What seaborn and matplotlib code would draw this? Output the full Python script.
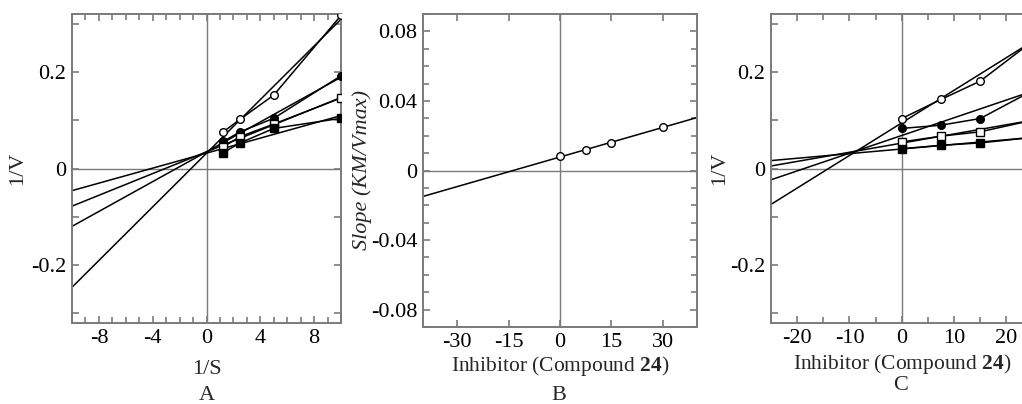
import numpy as np
import pandas as pd
import matplotlib
matplotlib.use("Agg")
import matplotlib.pyplot as plt
from matplotlib.ticker import FixedLocator, MultipleLocator, FuncFormatter
import seaborn as sns

# A: 1/V against 1/S, one series per inhibitor level
inv_s = [1.25, 2.5, 5, 10]
a_open_circle = [0.076, 0.102, 0.152, 0.317]
a_filled_circle = [0.056, 0.076, 0.104, 0.192]
a_open_square = [0.045, 0.066, 0.092, 0.146]
a_filled_square = [0.033, 0.053, 0.083, 0.104]

# B: slope replot
inhib_b = [0, 7.5, 15, 30]
slope_b = [0.0083, 0.0116, 0.0158, 0.0251]

# C: 1/V against inhibitor, one series per substrate level
inhib_c = [0, 7.5, 15, 30]
c_open_circle = [0.1035, 0.143, 0.181, 0.305]
c_filled_circle = [0.083, 0.0897, 0.1035, 0.19]
c_open_square = [0.055, 0.067, 0.076, 0.112]
c_filled_square = [0.041, 0.048, 0.053, 0.070]

sns.set_style("ticks")
plt.rcParams['font.family'] = ['Liberation Serif', 'DejaVu Serif']
plt.rcParams['mathtext.fontset'] = 'custom'
plt.rcParams['mathtext.rm'] = 'Liberation Serif'
plt.rcParams['mathtext.bf'] = 'Liberation Serif:bold'
plt.rcParams['mathtext.it'] = 'Liberation Serif:italic'
plt.rcParams['axes.unicode_minus'] = False

FS = 16
GREY = '#7a7a7a'
styles = [("o", "white"), ("o", "black"), ("s", "white"), ("s", "black")]

fig = plt.figure(figsize=(10.22, 4.04), dpi=100)
W, H = 1022, 404


def add_ax(l, r, t, b):
    return fig.add_axes([l / W, (H - b) / H, (r - l) / W, (b - t) / H])


def fmt(v, p):
    if abs(v) < 1e-9:
        return "0"
    return f"{v:g}"


def frame(ax, xlim, ylim, xmaj, xmin, ymaj, ymin):
    ax.set_xlim(xlim)
    ax.set_ylim(ylim)
    ax.xaxis.set_major_locator(FixedLocator(xmaj))
    ax.xaxis.set_minor_locator(MultipleLocator(xmin))
    ax.yaxis.set_major_locator(FixedLocator(ymaj))
    ax.yaxis.set_minor_locator(MultipleLocator(ymin))
    ax.xaxis.set_major_formatter(FuncFormatter(fmt))
    ax.yaxis.set_major_formatter(FuncFormatter(fmt))
    ax.tick_params(which='both', direction='in', top=True, right=True,
                   color=GREY, width=1.2, labelsize=FS, labelcolor='black')
    ax.tick_params(which='major', length=5, pad=4)
    ax.tick_params(which='minor', length=4)
    for s in ax.spines.values():
        s.set_color(GREY)
        s.set_linewidth(1.4)
    ax.axhline(0, color=GREY, lw=1, zorder=0)
    ax.axvline(0, color=GREY, lw=1, zorder=0)


def draw_series(ax, x, ys):
    for y, (m, fc) in zip(ys, styles):
        sns.regplot(x=np.array(x), y=np.array(y), ax=ax, ci=None, truncate=False,
                    scatter=False, line_kws=dict(color='black', lw=1.1))
        sns.lineplot(x=x, y=y, ax=ax, color='black', lw=1.1, marker=m,
                     markersize=5.5, markerfacecolor=fc, markeredgecolor='black',
                     markeredgewidth=1.0, zorder=5)


# panel A
axA = add_ax(72, 341, 14, 323)
axA.set_xlim(-10, 10)
axA.set_ylim(-0.32, 0.32)
draw_series(axA, inv_s, [a_open_circle, a_filled_circle, a_open_square, a_filled_square])
frame(axA, (-10, 10), (-0.32, 0.32), [-8, -4, 0, 4, 8], 1,
      [-0.3, -0.2, -0.1, 0, 0.1, 0.2, 0.3], 0.1)
axA.set_yticklabels(["", "-0.2", "", "0", "", "0.2", ""])
axA.set_xlabel("1/S", fontsize=FS)
axA.set_ylabel("1/V", fontsize=FS)
axA.xaxis.set_label_coords(0.5, -0.12)
axA.yaxis.set_label_coords(-0.167, 0.5)

# panel B
axB = add_ax(423, 697, 14, 327)
axB.set_xlim(-40, 40)
axB.set_ylim(-0.09, 0.09)
sns.regplot(x=np.array(inhib_b), y=np.array(slope_b), ax=axB, ci=None, truncate=False,
            scatter=False, line_kws=dict(color='black', lw=1.1))
sns.scatterplot(x=inhib_b, y=slope_b, ax=axB, marker='o', s=30, facecolor='white',
                edgecolor='black', linewidth=1.0, zorder=5)
frame(axB, (-40, 40), (-0.09, 0.09), [-30, -15, 0, 15, 30], 15,
      [-0.08, -0.04, 0, 0.04, 0.08], 0.01)
axB.set_xlabel(r"Inhibitor (Compound $\mathbf{24}$)", fontsize=15.5)
axB.set_ylabel("Slope (KM/Vmax)", fontsize=FS, style='italic')
axB.xaxis.set_label_coords(0.5, -0.085)
axB.yaxis.set_label_coords(-0.186, 0.5)

# panel C
axC = add_ax(771, 1032.5, 14, 323)
axC.set_xlim(-25, 25)
axC.set_ylim(-0.32, 0.32)
draw_series(axC, inhib_c, [c_open_circle, c_filled_circle, c_open_square, c_filled_square])
frame(axC, (-25, 25), (-0.32, 0.32), [-20, -10, 0, 10, 20], 5,
      [-0.3, -0.2, -0.1, 0, 0.1, 0.2, 0.3], 0.1)
axC.set_yticklabels(["", "-0.2", "", "0", "", "0.2", ""])
axC.set_xlabel(r"Inhibitor (Compound $\mathbf{24}$)", fontsize=15.5)
axC.set_ylabel("1/V", fontsize=FS)
axC.xaxis.set_label_coords(0.5, -0.095)
axC.yaxis.set_label_coords(-0.161, 0.5)

fig.text(207 / W, 1 - 395 / H, "A", ha='center', va='center', fontsize=FS)
fig.text(559 / W, 1 - 396 / H, "B", ha='center', va='center', fontsize=FS)
fig.text(901 / W, 1 - 386 / H, "C", ha='center', va='center', fontsize=FS)

fig.savefig("out.png", dpi=100)
